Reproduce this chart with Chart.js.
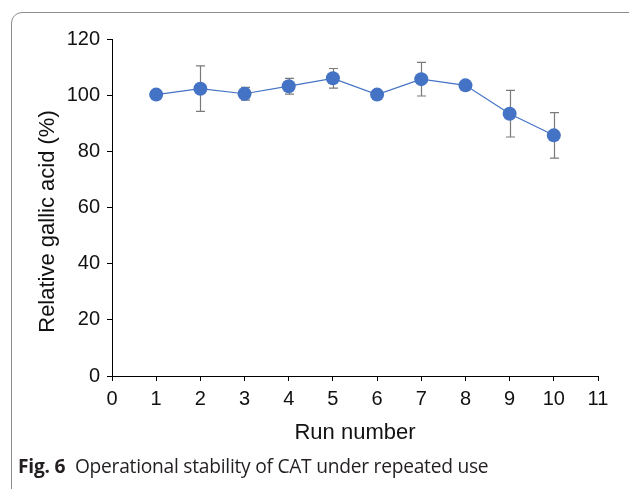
<!DOCTYPE html>
<html>
<head>
<meta charset="utf-8">
<script src="https://cdn.jsdelivr.net/npm/chart.js@4"></script>
<style>
  html, body { margin: 0; padding: 0; background: #fff; }
  body { width: 629px; height: 489px; position: relative; overflow: hidden; }
  #frame { position: absolute; left: 11px; top: 12px; width: 640px; height: 490px;
           border: 1px solid #8c8c8c; border-radius: 11px; box-sizing: border-box; }
  #wrap { position: absolute; left: 0; top: 0; width: 629px; height: 489px; }
  #caption { position: absolute; left: 18px; top: 452px; font-family: "Open Sans", sans-serif;
             font-size: 19.2px; color: #231f20; white-space: nowrap; letter-spacing: -0.25px; }
  #caption b { font-weight: 700; margin-right: 5px; }
</style>
</head>
<body>
<div id="frame"></div>
<div id="wrap"><canvas id="c" width="629" height="489"></canvas></div>
<div id="caption"><b>Fig. 6</b> Operational stability of CAT under repeated use</div>
<script>
const runs = [1, 2, 3, 4, 5, 6, 7, 8, 9, 10];
const relativeGallicAcid = [100.2, 102.3, 100.5, 103.2, 106.0, 100.2, 105.7, 103.5, 93.4, 85.7];
const errorValues = [0.8, 8.1, 2.3, 2.8, 3.5, 0.8, 6.0, 0.8, 8.3, 8.1];
const xTickValues = [0, 1, 2, 3, 4, 5, 6, 7, 8, 9, 10, 11];
const yTickValues = [0, 20, 40, 60, 80, 100, 120];
const xTitle = "Run number";
const yTitle = "Relative gallic acid (%)";

const points = runs.map((r, i) => ({ x: r, y: relativeGallicAcid[i] }));

const errorBarPlugin = {
  id: 'errorBars',
  beforeDatasetsDraw(chart) {
    const ctx = chart.ctx;
    const xs = chart.scales.x, ys = chart.scales.y;
    ctx.save();
    ctx.strokeStyle = '#7a7a7a';
    ctx.lineWidth = 1.2;
    runs.forEach((r, i) => {
      const px = Math.round(xs.getPixelForValue(r)) + 0.5;
      const yt = ys.getPixelForValue(relativeGallicAcid[i] + errorValues[i]);
      const yb = ys.getPixelForValue(relativeGallicAcid[i] - errorValues[i]);
      ctx.beginPath();
      ctx.moveTo(px, yt); ctx.lineTo(px, yb);
      ctx.moveTo(px - 4.5, yt); ctx.lineTo(px + 4.5, yt);
      ctx.moveTo(px - 4.5, yb); ctx.lineTo(px + 4.5, yb);
      ctx.stroke();
    });
    ctx.restore();
  }
};

const yTitlePlugin = {
  id: 'yTitle',
  afterDraw(chart) {
    const ctx = chart.ctx;
    const a = chart.chartArea;
    ctx.save();
    ctx.translate(48, (a.top + a.bottom) / 2 + 14);
    ctx.rotate(-Math.PI / 2);
    ctx.font = '22px "Liberation Sans", Arial, sans-serif';
    ctx.fillStyle = '#111';
    ctx.textAlign = 'center';
    ctx.textBaseline = 'middle';
    ctx.fillText(yTitle, 0, 0);
    ctx.restore();
  }
};

new Chart(document.getElementById('c'), {
  type: 'line',
  data: {
    datasets: [{
      data: points,
      borderColor: '#4472C4',
      backgroundColor: '#4472C4',
      borderWidth: 1.2,
      pointRadius: 7,
      pointHoverRadius: 7,
      pointBackgroundColor: '#4472C4',
      pointBorderColor: '#4472C4',
      pointBorderWidth: 0,
      tension: 0
    }]
  },
  options: {
    responsive: false,
    animation: false,
    events: [],
    layout: { padding: { left: 0, top: 39, right: 31, bottom: 0 } },
    plugins: { legend: { display: false }, tooltip: { enabled: false } },
    scales: {
      x: {
        type: 'linear',
        min: 0, max: 11,
        afterBuildTicks(s) { s.ticks = xTickValues.map(v => ({ value: v })); },
        afterFit(s) { s.height = 113; },
        grid: { drawOnChartArea: false, drawTicks: true, tickLength: 5, color: '#000', lineWidth: 1 },
        border: { display: true, color: '#000', width: 1 },
        ticks: { color: '#111', padding: 6, maxRotation: 0, autoSkip: false,
                 font: { family: '"Liberation Sans", Arial, sans-serif', size: 20 } },
        title: { display: true, text: xTitle, color: '#111',
                 font: { family: '"Liberation Sans", Arial, sans-serif', size: 22 },
                 padding: { top: 0, bottom: 43 } }
      },
      y: {
        type: 'linear',
        min: 0, max: 120,
        afterBuildTicks(s) { s.ticks = yTickValues.map(v => ({ value: v })); },
        afterFit(s) { s.width = 112; },
        grid: { drawOnChartArea: false, drawTicks: true, tickLength: 5, color: '#000', lineWidth: 1 },
        border: { display: true, color: '#000', width: 1 },
        ticks: { color: '#111', padding: 7,
                 font: { family: '"Liberation Sans", Arial, sans-serif', size: 20 } },
        title: { display: false }
      }
    }
  },
  plugins: [errorBarPlugin, yTitlePlugin]
});
</script>
</body>
</html>
